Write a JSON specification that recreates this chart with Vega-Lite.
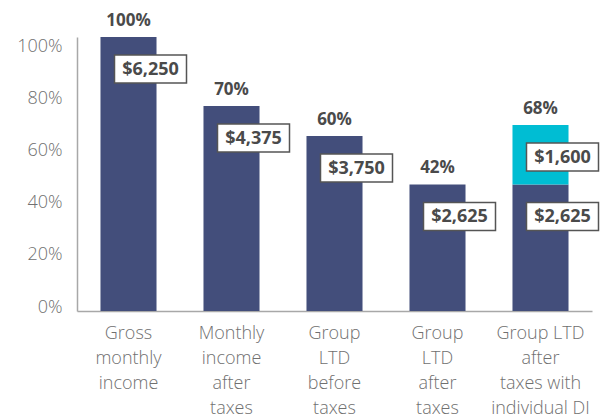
{
  "$schema": "https://vega.github.io/schema/vega-lite/v6.json",
  "autosize": {"type": "none"},
  "padding": {"left": 77, "top": 37, "right": 13, "bottom": 107},
  "width": 515,
  "height": 274,
  "background": "white",
  "config": {
    "view": {"stroke": null},
    "font": "Open Sans",
    "axis": {"grid": false, "ticks": false, "domainColor": "#a8a8a8", "domainWidth": 1.5, "labelColor": "#707070", "labelFont": "Open Sans", "labelFontSize": 18, "labelFontWeight": 300, "title": null}
  },
  "data": {
    "values": [
      {"category": "Gross|monthly|income", "segment": "Group LTD", "value": 105, "amount": "$6,250", "pct": "100%"},
      {"category": "Monthly|income|after|taxes", "segment": "Group LTD", "value": 78.6, "amount": "$4,375", "pct": "70%"},
      {"category": "Group|LTD|before|taxes", "segment": "Group LTD", "value": 67.1, "amount": "$3,750", "pct": "60%"},
      {"category": "Group|LTD|after|taxes", "segment": "Group LTD", "value": 48.5, "amount": "$2,625", "pct": "42%"},
      {"category": "Group LTD|after|taxes with|individual DI", "segment": "Group LTD", "value": 48.5, "amount": "$2,625", "pct": ""},
      {"category": "Group LTD|after|taxes with|individual DI", "segment": "Individual DI", "value": 22.8, "amount": "$1,600", "pct": "68%"}
    ]
  },
  "encoding": {
    "x": {
      "field": "category", "type": "nominal", "sort": null,
      "scale": {"paddingInner": 0.456, "paddingOuter": 0.228},
      "axis": {"labelAngle": 0, "labelExpr": "split(datum.label, '|')", "labelLineHeight": 25, "labelPadding": 13, "labelBaseline": "top", "labelLimit": 0}
    },
    "y": {
      "field": "value", "type": "quantitative", "stack": "zero",
      "scale": {"domain": [0, 105], "nice": false},
      "axis": {"values": [0, 20, 40, 60, 80, 100], "format": ".0f", "labelExpr": "datum.label + '%'", "labelPadding": 15, "labelOffset": -4, "labelBaseline": "middle"}
    },
    "order": {"field": "segment", "type": "nominal", "sort": "ascending"},
    "detail": {"field": "segment", "type": "nominal"}
  },
  "layer": [
    {
      "mark": {"type": "bar"},
      "encoding": {
        "color": {"field": "segment", "type": "nominal", "scale": {"domain": ["Group LTD", "Individual DI"], "range": ["#434e7b", "#00bdd3"]}, "legend": null}
      }
    },
    {
      "mark": {"type": "point", "shape": "M-36,-14H36V14H-36Z", "size": 4, "filled": true, "fill": "white", "stroke": "#555555", "strokeWidth": 1.5, "opacity": 1, "xOffset": 22, "yOffset": 32}
    },
    {
      "mark": {"type": "text", "font": "Open Sans", "fontWeight": "bold", "fontSize": 18, "color": "#4a4a4a", "xOffset": 22, "yOffset": 33, "baseline": "middle", "align": "center"},
      "encoding": {"text": {"field": "amount"}}
    },
    {
      "mark": {"type": "text", "font": "Open Sans", "fontWeight": "bold", "fontSize": 17, "color": "#4a4a4a", "dy": -16, "baseline": "middle", "align": "center"},
      "encoding": {"text": {"field": "pct"}}
    }
  ]
}
